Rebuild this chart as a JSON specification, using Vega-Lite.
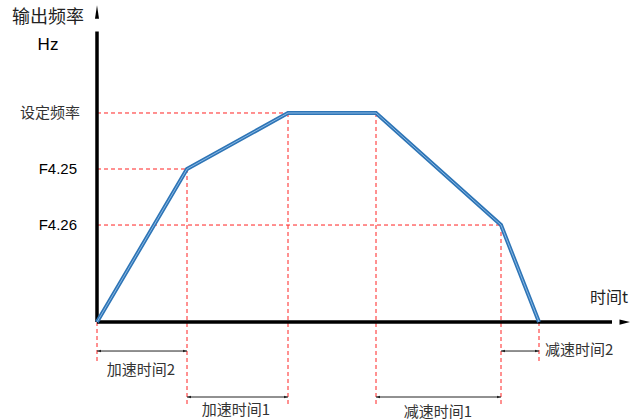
{
  "$schema": "https://vega.github.io/schema/vega-lite/v6.json",
  "width": 631,
  "height": 420,
  "padding": 0,
  "autosize": {"type": "none"},
  "background": "white",
  "config": {"view": {"stroke": null}},
  "datasets": {
    "curve": [
      {"t": 0, "f": 0},
      {"t": 1.8, "f": 36.6},
      {"t": 3.82, "f": 50},
      {"t": 5.58, "f": 50},
      {"t": 8.08, "f": 23.2},
      {"t": 8.84, "f": 0}
    ],
    "guides": [
      {"t": 0, "f": 50, "t2": 3.82, "f2": 50},
      {"t": 0, "f": 36.6, "t2": 1.8, "f2": 36.6},
      {"t": 0, "f": 23.2, "t2": 8.08, "f2": 23.2},
      {"t": 0, "f": 0, "t2": 0, "f2": -9.57},
      {"t": 1.8, "f": 36.6, "t2": 1.8, "f2": -19.86},
      {"t": 3.82, "f": 50, "t2": 3.82, "f2": -19.86},
      {"t": 5.58, "f": 50, "t2": 5.58, "f2": -19.86},
      {"t": 8.08, "f": 23.2, "t2": 8.08, "f2": -19.86},
      {"t": 8.84, "f": 0, "t2": 8.84, "f2": -9.57}
    ],
    "axes": [
      {"t": 0, "f": 0, "t2": 0, "f2": 69.5},
      {"t": 0, "f": 0, "t2": 10.3, "f2": 0}
    ],
    "dims": [
      {"t": 0, "t2": 1.8, "f": -6.94},
      {"t": 1.8, "t2": 3.82, "f": -17.94},
      {"t": 5.58, "t2": 8.08, "f": -17.94},
      {"t": 8.08, "t2": 8.84, "f": -6.94}
    ]
  },
  "encoding": {
    "x": {"field": "t", "type": "quantitative", "scale": {"domain": [-1.94, 10.68], "nice": false, "zero": false}, "axis": null},
    "y": {"field": "f", "type": "quantitative", "scale": {"domain": [-23.44, 77.03], "nice": false, "zero": false}, "axis": null}
  },
  "layer": [
    {
      "data": {"name": "guides"},
      "mark": {"type": "rule", "color": "#f22", "strokeWidth": 1, "strokeDash": [4, 3]},
      "encoding": {"x2": {"field": "t2"}, "y2": {"field": "f2"}}
    },
    {
      "data": {"name": "axes"},
      "mark": {"type": "rule", "color": "#000", "strokeWidth": 3.5},
      "encoding": {"x2": {"field": "t2"}, "y2": {"field": "f2"}}
    },
    {
      "data": {"name": "dims"},
      "mark": {"type": "rule", "color": "#222", "strokeWidth": 1},
      "encoding": {"x2": {"field": "t2"}}
    },
    {
      "data": {"name": "dims"},
      "mark": {"type": "point", "shape": "M0,0L2,-0.6L2,0.6Z", "size": 16, "filled": true, "color": "#222", "opacity": 1}
    },
    {
      "data": {"name": "dims"},
      "mark": {"type": "point", "shape": "M0,0L-2,-0.6L-2,0.6Z", "size": 16, "filled": true, "color": "#222", "opacity": 1},
      "encoding": {"x": {"field": "t2", "type": "quantitative"}}
    },
    {
      "data": {"values": [{"t": 0, "f": 75.8}]},
      "mark": {"type": "point", "shape": "M0,0L0.3,2L-0.3,2Z", "size": 182, "filled": true, "color": "#000", "opacity": 1}
    },
    {
      "data": {"values": [{"t": 10.66, "f": 0}]},
      "mark": {"type": "point", "shape": "M0,0L-2,-0.5L-2,0.5Z", "size": 110, "filled": true, "color": "#000", "opacity": 1}
    },
    {
      "data": {"name": "curve"},
      "mark": {"type": "line", "color": "#2e75b6", "strokeWidth": 4, "strokeJoin": "miter"}
    },
    {
      "data": {"name": "curve"},
      "mark": {"type": "line", "color": "#8ab8e4", "strokeWidth": 1}
    },
    {
      "data": {"values": [{"t": -0.98, "f": 72.73, "label": "输出频率"}]},
      "mark": {"type": "text", "font": "Noto Sans CJK SC", "fontSize": 18, "align": "center", "baseline": "middle", "color": "#222"},
      "encoding": {"text": {"field": "label"}}
    },
    {
      "data": {"values": [{"t": -0.98, "f": 66.27, "label": "Hz"}]},
      "mark": {"type": "text", "font": "Liberation Sans", "fontSize": 17, "align": "center", "baseline": "middle", "color": "#000"},
      "encoding": {"text": {"field": "label"}}
    },
    {
      "data": {"values": [{"t": -0.34, "f": 50, "label": "设定频率"}]},
      "mark": {"type": "text", "font": "Noto Sans CJK SC", "fontSize": 15, "align": "right", "baseline": "middle", "color": "#333"},
      "encoding": {"text": {"field": "label"}}
    },
    {
      "data": {"values": [{"t": -0.4, "f": 36.6, "label": "F4.25"}, {"t": -0.4, "f": 23.2, "label": "F4.26"}]},
      "mark": {"type": "text", "font": "Liberation Sans", "fontSize": 15, "align": "right", "baseline": "middle", "color": "#000"},
      "encoding": {"text": {"field": "label"}}
    },
    {
      "data": {"values": [
        {"t": 0.88, "f": -11.48, "label": "加速时间2"},
        {"t": 2.78, "f": -21.05, "label": "加速时间1"},
        {"t": 6.82, "f": -21.53, "label": "减速时间1"}
      ]},
      "mark": {"type": "text", "font": "Noto Sans CJK SC", "fontSize": 15, "align": "center", "baseline": "middle", "color": "#333"},
      "encoding": {"text": {"field": "label"}}
    },
    {
      "data": {"values": [{"t": 8.96, "f": -6.7, "label": "减速时间2"}]},
      "mark": {"type": "text", "font": "Noto Sans CJK SC", "fontSize": 15, "align": "left", "baseline": "middle", "color": "#333"},
      "encoding": {"text": {"field": "label"}}
    },
    {
      "data": {"values": [{"t": 9.86, "f": 5.74, "label": "时间t"}]},
      "mark": {"type": "text", "font": "Noto Sans CJK SC", "fontSize": 16, "align": "left", "baseline": "middle", "color": "#222"},
      "encoding": {"text": {"field": "label"}}
    }
  ]
}
